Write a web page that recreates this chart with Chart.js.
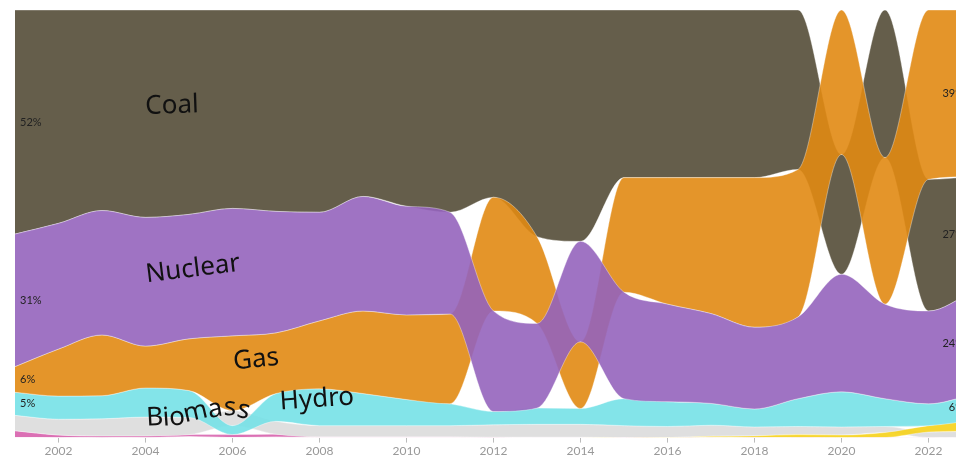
<!DOCTYPE html>
<html>
<head>
<meta charset="utf-8">
<script src="https://cdn.jsdelivr.net/npm/chart.js@4/dist/chart.umd.min.js"></script>
<style>
  html, body { margin: 0; padding: 0; background: #fff; overflow: hidden; }
  #wrap { width: 956px; height: 459px; overflow: hidden; }
  canvas { display: block; }
</style>
</head>
<body>
<div id="wrap"><canvas id="mix" width="980" height="459"></canvas></div>
<script>
// share of generation, % per year
const years   = [2001,2002,2003,2004,2005,2006,2007,2008,2009,2010,2011,2012,2013,2014,2015,2016,2017,2018,2019,2020,2021,2022,2023];
const coal    = [52.4,49.9,46.9,48.5,47.8,46.4,47.1,47.3,43.6,45.9,47.3,43.8,53.0,54.1,39.2,39.2,39.2,39.2,37.3,28.0,34.5,30.8,27.0];
const nuclear = [31.0,29.4,29.1,30.1,29.1,29.8,28.4,25.4,26.8,25.4,23.8,23.5,19.8,23.5,24.9,22.8,21.0,19.1,19.1,27.5,22.1,21.7,24.0];
const gas     = [ 6.0,11.0,14.2, 9.8,12.1,17.5,14.2,15.9,19.3,19.8,21.0,26.6,20.3,15.6,26.8,29.6,31.8,35.0,34.5,33.8,34.3,39.6,39.0];
const hydro   = [ 5.4, 5.4, 5.4, 6.8, 6.3, 2.1, 6.5, 8.6, 7.5, 6.1, 5.1, 3.1, 3.8, 3.7, 6.3, 5.8, 5.1, 4.2, 6.5, 8.2, 6.5, 5.1, 6.0];
const biomass = [ 3.6, 3.7, 4.0, 4.4, 4.0, 3.5, 3.0, 2.6, 2.6, 2.6, 2.6, 2.9, 3.0, 3.0, 2.8, 2.6, 2.6, 2.1, 1.9, 1.9, 1.4, 1.3, 1.5];
const solar   = [ 0,   0,   0,   0,   0,   0,   0,   0,   0,   0,   0,   0,   0,   0,  0.05,0.1, 0.2, 0.4, 0.7, 0.7, 1.2, 1.5, 2.5];
const other   = [ 1.6, 0.7, 0.5, 0.5, 0.5, 0.7, 0.7, 0.2, 0.2, 0.2, 0.2, 0.2, 0.1, 0.1, 0.1, 0.1, 0.1, 0.1, 0.1, 0.1, 0.1, 0.1, 0.1];

const categories = ['Coal','Nuclear','Gas','Hydro','Biomass','Solar','Other'];
const series = {Coal: coal, Nuclear: nuclear, Gas: gas, Hydro: hydro, Biomass: biomass, Solar: solar, Other: other};
const xTicks = [2002,2004,2006,2008,2010,2012,2014,2016,2018,2020,2022];

const colors = {
  Coal: 'rgba(84,77,55,0.9)',
  Nuclear: 'rgba(149,100,189,0.9)',
  Gas: 'rgba(225,138,19,0.9)',
  Hydro: 'rgba(118,225,231,0.9)',
  Biomass: 'rgba(220,220,220,0.9)',
  Solar: 'rgba(246,209,25,0.9)',
  Other: 'rgba(215,96,172,0.9)'
};
// drawn last = on top
const drawOrder = ['Nuclear','Gas','Coal','Hydro','Solar','Biomass','Other'];

// ranked stacking: largest on top each year
const bands = {};
categories.forEach(c => bands[c] = {top: [], bottom: []});
years.forEach((yr, i) => {
  const ranked = categories.slice().sort((a, b) => series[b][i] - series[a][i]);
  let cum = 100;
  ranked.forEach(c => {
    bands[c].top.push(cum);
    cum -= series[c][i];
    bands[c].bottom.push(cum);
  });
});

const datasets = [];
drawOrder.forEach(c => {
  const baseIndex = datasets.length;
  datasets.push({
    label: c + ' base',
    data: years.map((yr, i) => ({x: yr, y: bands[c].bottom[i]})),
    borderColor: 'rgba(255,255,255,0.45)', borderWidth: 0.8,
    pointRadius: 0, fill: false, cubicInterpolationMode: 'monotone'
  });
  datasets.push({
    label: c,
    data: years.map((yr, i) => ({x: yr, y: bands[c].top[i]})),
    borderColor: 'rgba(255,255,255,0.45)', borderWidth: 0.8,
    backgroundColor: colors[c],
    pointRadius: 0, fill: baseIndex, cubicInterpolationMode: 'monotone'
  });
});

// hand-placed series names (data coordinates)
const nameLabels = [
  {text: 'Coal',    x: 2004.61, y: 77.6, rot: -2},
  {text: 'Nuclear', x: 2005.09, y: 39.4, rot: -7},
  {text: 'Gas',     x: 2006.54, y: 18.2, rot: -6},
  {text: 'Hydro',   x: 2007.94, y: 8.9,  rot: -4}
];
// "Biomass" set along a curve: baseline height and tilt per letter
const biomassStart = 2004.03;
const biomassLetters = [
  {ch: 'B', y: 2.8, rot: -3},
  {ch: 'i', y: 2.8, rot: -4},
  {ch: 'o', y: 2.8, rot: -6},
  {ch: 'm', y: 3.6, rot: -13},
  {ch: 'a', y: 4.6, rot: -10},
  {ch: 's', y: 5.3, rot: 2},
  {ch: 's', y: 5.0, rot: 14}
];

const labelPlugin = {
  id: 'labels',
  afterDatasetsDraw(chart) {
    const {ctx, scales: {x, y}} = chart;
    ctx.save();
    ctx.font = '11px Lato, sans-serif';
    ctx.fillStyle = '#222';
    ctx.textBaseline = 'middle';
    const last = years.length - 1;
    categories.forEach(c => {
      const v0 = series[c][0], v1 = series[c][last];
      if (v0 >= 5) {
        ctx.textAlign = 'left';
        ctx.fillText(Math.round(v0) + '%', x.getPixelForValue(years[0]) + 5,
          y.getPixelForValue((bands[c].top[0] + bands[c].bottom[0]) / 2));
      }
      if (v1 >= 5) {
        ctx.textAlign = 'right';
        ctx.fillText(Math.round(v1) + '%', x.getPixelForValue(years[last]) - 8,
          y.getPixelForValue((bands[c].top[last] + bands[c].bottom[last]) / 2));
      }
    });

    ctx.fillStyle = '#111';
    ctx.font = '26px "Noto Sans", sans-serif';
    ctx.textAlign = 'center';
    ctx.textBaseline = 'middle';
    nameLabels.forEach(l => {
      ctx.save();
      ctx.translate(x.getPixelForValue(l.x), y.getPixelForValue(l.y));
      ctx.rotate(l.rot * Math.PI / 180);
      ctx.fillText(l.text, 0, 0);
      ctx.restore();
    });
    ctx.textAlign = 'left';
    ctx.textBaseline = 'alphabetic';
    let px = x.getPixelForValue(biomassStart);
    biomassLetters.forEach(l => {
      const w = ctx.measureText(l.ch).width;
      ctx.save();
      ctx.translate(px, y.getPixelForValue(l.y));
      ctx.rotate(l.rot * Math.PI / 180);
      ctx.fillText(l.ch, 0, 0);
      ctx.restore();
      px += w * 0.98;
    });
    ctx.restore();
  }
};

new Chart(document.getElementById('mix').getContext('2d'), {
  type: 'line',
  data: {datasets},
  options: {
    responsive: false,
    animation: false,
    devicePixelRatio: 1,
    layout: {padding: {left: 15, top: 10, right: 8, bottom: 0}},
    plugins: {legend: {display: false}, tooltip: {enabled: false}},
    events: [],
    scales: {
      x: {
        type: 'linear', min: 2001, max: 2023,
        afterBuildTicks: axis => { axis.ticks = xTicks.map(v => ({value: v})); },
        ticks: {color: '#999', font: {family: 'Lato', size: 12}, padding: 1, callback: v => String(v), maxRotation: 0},
        grid: {display: true, drawOnChartArea: false, drawTicks: true, tickLength: 5, color: '#bbb'},
        border: {display: false}
      },
      y: {min: 0, max: 100, display: false}
    }
  },
  plugins: [labelPlugin]
});
</script>
</body>
</html>
